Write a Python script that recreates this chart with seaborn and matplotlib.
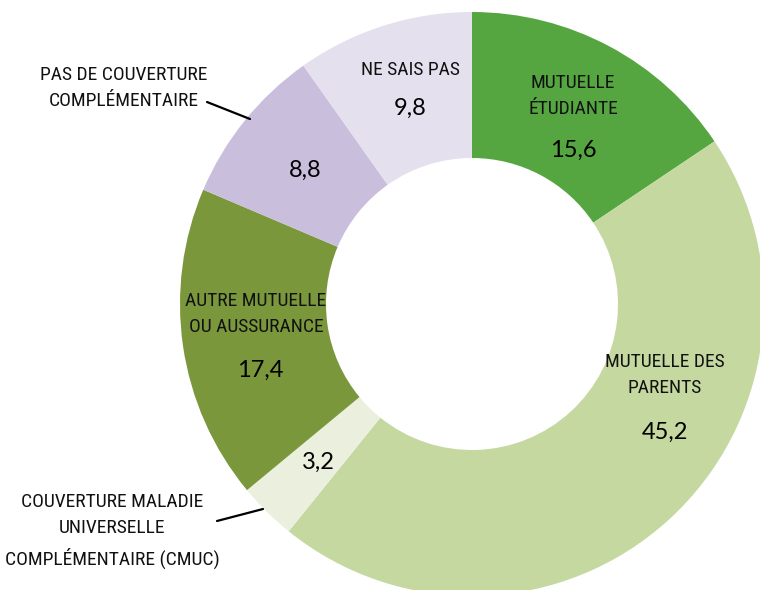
import matplotlib
matplotlib.use("Agg")
import matplotlib.pyplot as plt
import seaborn as sns
from matplotlib import font_manager

# -------------------- Data --------------------
categories = ["MUTUELLE\nÉTUDIANTE", "MUTUELLE DES\nPARENTS",
              "COUVERTURE MALADIE\nUNIVERSELLE\nCOMPLÉMENTAIRE (CMUC)",
              "AUTRE MUTUELLE\nOU AUSSURANCE", "PAS DE COUVERTURE\nCOMPLÉMENTAIRE",
              "NE SAIS PAS"]
values = [15.6, 45.2, 3.2, 17.4, 8.8, 9.8]
value_labels = ["15,6", "45,2", "3,2", "17,4", "8,8", "9,8"]

colors = ["#55a640", "#c5d8a0", "#eaf0dd", "#7a973c", "#c9bedc", "#e5e0ee"]

sns.set_theme(style="white")
names = {f.name for f in font_manager.fontManager.ttflist}
narrow = [f for f in ["Liberation Sans Narrow", "DejaVu Sans Condensed", "Roboto Condensed"] if f in names]
label_font = narrow[0] if narrow else "DejaVu Sans"
plt.rcParams["font.family"] = ["Lato", "DejaVu Sans"]

# -------------------- Plot --------------------
fig = plt.figure(figsize=(7.6, 5.9), dpi=100)
ax = fig.add_axes([0, 0, 1, 1])
ax.pie(values, colors=colors, startangle=90, counterclock=False,
       radius=1.0, wedgeprops=dict(width=0.5, linewidth=0))
ax.set_xlim(-472 / 292, 288 / 292)
ax.set_ylim(-286 / 292, 304 / 292)
ax.set_aspect("equal")
ax.axis("off")


def px(x, y):
    return (x - 472) / 292, (304 - y) / 292


# label positions (pixel layout), None = label drawn outside
label_pos = [(573, 96), (665, 375), None, (256, 314), None, (410, 70)]
value_pos = [(573, 150), (665, 432), (318, 462), (260, 370), (305, 170), (410, 108)]

label_kw = dict(ha="center", va="center", fontsize=14, family=label_font,
                linespacing=1.6, color="#111111")

for cat, lab, lp, vp in zip(categories, value_labels, label_pos, value_pos):
    if lp is not None:
        ax.text(*px(*lp), cat, **label_kw)
    ax.text(*px(*vp), lab, ha="center", va="center", fontsize=17, color="black")

# outside labels with leader lines
ax.text(*px(124, 88), categories[4], **label_kw)
ax.plot(*zip(px(207, 102), px(250, 119)), color="black", lw=1.6)
ax.text(*px(112, 531), categories[2], **label_kw)
ax.plot(*zip(px(217, 521), px(263, 509)), color="black", lw=1.6)

fig.savefig("out.png", dpi=100)
